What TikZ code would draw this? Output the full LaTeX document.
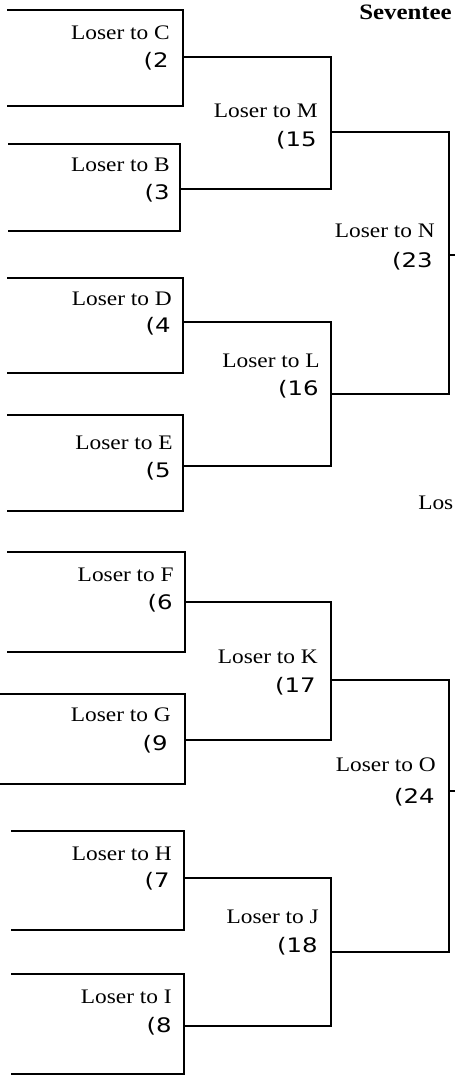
\documentclass[tikz,border=0pt]{standalone}
\usepackage{fontspec}
\setmainfont{Liberation Serif}[FakeStretch=1.13]
\newfontfamily\numfont{DejaVu Sans}[FakeStretch=1.22]
\usepackage{tikz}

\tikzset{
  lbl/.style={anchor=base east, inner sep=0.75pt, font=\fontsize{15.5}{18}\selectfont},
  num/.style={anchor=base east, inner sep=0.75pt, font=\numfont\fontsize{15}{18}\selectfont},
  bline/.style={line width=1pt},
}

\begin{document}
\begin{tikzpicture}[x=0.75pt,y=0.75pt,yscale=-1,xscale=1]
    \useasboundingbox (0,0) rectangle (454,1078);

    %Shape: Bracket [C]
    \coordinate (C1) at (7,10); \coordinate (C2) at (183,10); \coordinate (C3) at (183,106); \coordinate (C4) at (7,106);
    \coordinate (Cm) at (183,57);
    \draw [bline] (C1) -- (C2) -- (C3) -- (C4) ;
    %Shape: Bracket [B]
    \coordinate (B1) at (8,144); \coordinate (B2) at (180,144); \coordinate (B3) at (180,231); \coordinate (B4) at (8,231);
    \coordinate (Bm) at (180,189);
    \draw [bline] (B1) -- (B2) -- (B3) -- (B4) ;
    %Shape: Bracket [D]
    \coordinate (D1) at (7,278); \coordinate (D2) at (183,278); \coordinate (D3) at (183,373); \coordinate (D4) at (7,373);
    \coordinate (Dm) at (183,322);
    \draw [bline] (D1) -- (D2) -- (D3) -- (D4) ;
    %Shape: Bracket [E]
    \coordinate (E1) at (7,415); \coordinate (E2) at (183,415); \coordinate (E3) at (183,511); \coordinate (E4) at (7,511);
    \coordinate (Em) at (183,466);
    \draw [bline] (E1) -- (E2) -- (E3) -- (E4) ;
    %Shape: Bracket [F]
    \coordinate (F1) at (7,552); \coordinate (F2) at (185,552); \coordinate (F3) at (185,652); \coordinate (F4) at (7,652);
    \coordinate (Fm) at (185,602);
    \draw [bline] (F1) -- (F2) -- (F3) -- (F4) ;
    %Shape: Bracket [G]
    \coordinate (G1) at (0,694); \coordinate (G2) at (185,694); \coordinate (G3) at (185,784); \coordinate (G4) at (0,784);
    \coordinate (Gm) at (185,740);
    \draw [bline] (G1) -- (G2) -- (G3) -- (G4) ;
    %Shape: Bracket [H]
    \coordinate (H1) at (11,831); \coordinate (H2) at (184,831); \coordinate (H3) at (184,930); \coordinate (H4) at (11,930);
    \coordinate (Hm) at (184,878);
    \draw [bline] (H1) -- (H2) -- (H3) -- (H4) ;
    %Shape: Bracket [I]
    \coordinate (I1) at (11,974); \coordinate (I2) at (184,974); \coordinate (I3) at (184,1074); \coordinate (I4) at (11,1074);
    \coordinate (Im) at (184,1026);
    \draw [bline] (I1) -- (I2) -- (I3) -- (I4) ;

    %Straight Lines [M]
    \coordinate (M1) at (331,57); \coordinate (M2) at (331,189); \coordinate (Mm) at (331,132);
    \draw [bline] (Cm) -- (M1) -- (M2) -- (Bm) ;
    %Straight Lines [L]
    \coordinate (L1) at (331,322); \coordinate (L2) at (331,466); \coordinate (Lm) at (331,394);
    \draw [bline] (Dm) -- (L1) -- (L2) -- (Em) ;
    %Straight Lines [K]
    \coordinate (K1) at (331,602); \coordinate (K2) at (331,740); \coordinate (Km) at (331,680);
    \draw [bline] (Fm) -- (K1) -- (K2) -- (Gm) ;
    %Straight Lines [J]
    \coordinate (J1) at (331,878); \coordinate (J2) at (331,1026); \coordinate (Jm) at (331,952);
    \draw [bline] (Hm) -- (J1) -- (J2) -- (Im) ;

    %Straight Lines [N]
    \coordinate (N1) at (449,132); \coordinate (N2) at (449,394); \coordinate (Nm) at (449,255); \coordinate (Nx) at (455,255);
    \draw [bline] (Mm) -- (N1) -- (N2) -- (Lm) ;
    \draw [bline] (Nm) -- (Nx) ;
    %Straight Lines [O]
    \coordinate (O1) at (449,680); \coordinate (O2) at (449,952); \coordinate (Om) at (449,791); \coordinate (Ox) at (455,791);
    \draw [bline] (Km) -- (O1) -- (O2) -- (Jm) ;
    \draw [bline] (Om) -- (Ox) ;

    % Text Node
    \draw (359,19) node [anchor=base west][inner sep=0pt][font=\bfseries\fontsize{16.5}{19}\selectfont] (title) {Seventee};

    % Text Node
    \draw (171,39) node [lbl] (tC) {Loser to C};
    \draw (170,67) node [num] (nC) {(2};
    % Text Node
    \draw (171,171) node [lbl] (tB) {Loser to B};
    \draw (171,199) node [num] (nB) {(3};
    % Text Node
    \draw (173,305) node [lbl] (tD) {Loser to D};
    \draw (172,332) node [num] (nD) {(4};
    % Text Node
    \draw (174,449) node [lbl] (tE) {Loser to E};
    \draw (172,477) node [num] (nE) {(5};
    % Text Node
    \draw (175,581) node [lbl] (tF) {Loser to F};
    \draw (174,609) node [num] (nF) {(6};
    % Text Node
    \draw (172,721) node [lbl] (tG) {Loser to G};
    \draw (169,750) node [num] (nG) {(9};
    % Text Node
    \draw (173,860) node [lbl] (tH) {Loser to H};
    \draw (171,887) node [num] (nH) {(7};
    % Text Node
    \draw (173,1003) node [lbl] (tI) {Loser to I};
    \draw (173,1032) node [num] (nI) {(8};

    % Text Node
    \draw (319,117) node [lbl] (tM) {Loser to M};
    \draw (318,146) node [num] (nM) {(15};
    % Text Node
    \draw (321,367) node [lbl] (tL) {Loser to L};
    \draw (320,395) node [num] (nL) {(16};
    % Text Node
    \draw (319,663) node [lbl] (tK) {Loser to K};
    \draw (317,692) node [num] (nK) {(17};
    % Text Node
    \draw (320,923) node [lbl] (tJ) {Loser to J};
    \draw (319,952) node [num] (nJ) {(18};

    % Text Node
    \draw (436,237) node [lbl] (tN) {Loser to N};
    \draw (434,267) node [num] (nN) {(23};
    % Text Node
    \draw (437,771) node [lbl] (tO) {Loser to O};
    \draw (436,803) node [num] (nO) {(24};

    % Text Node
    \draw (418,509) node [anchor=base west][inner sep=0pt][font=\fontsize{15.5}{18}\selectfont] (tP) {Los};

\end{tikzpicture}
\end{document}
